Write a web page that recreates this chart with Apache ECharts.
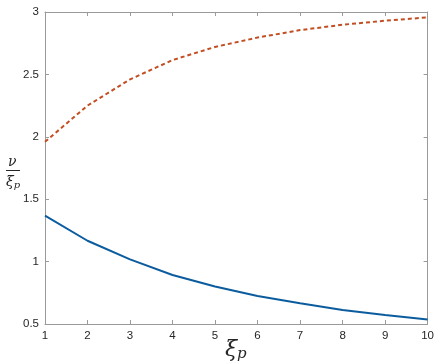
<!DOCTYPE html>
<html><head><meta charset="utf-8">
<script src="https://cdn.jsdelivr.net/npm/echarts@6/dist/echarts.min.js"></script>
<style>html,body{margin:0;padding:0;background:#fff}#c{width:437px;height:364px}</style>
</head><body><div id="c"></div>
<script>
const xValues = [1,2,3,4,5,6,7,8,9,10];
const blueValues = [1.368,1.167,1.018,0.893,0.800,0.725,0.666,0.612,0.572,0.537];
const redValues = [1.96,2.25,2.46,2.615,2.72,2.795,2.855,2.898,2.93,2.957];
const xTicks = [1,2,3,4,5,6,7,8,9,10];
const yTicks = [0.5,1,1.5,2,2.5,3];

const axisColor = '#9a9a9a';
const labelStyle = {color:'#262626', fontSize:11.5, fontFamily:'Liberation Sans, Arial, sans-serif'};
const chart = echarts.init(document.getElementById('c'));
const pair = (arr) => xValues.map((x,i)=>[x,arr[i]]);
chart.setOption({
  animation:false,
  grid:{left:45,right:9,top:12,bottom:40},
  xAxis:[
    {type:'value',min:1,max:10,interval:1,position:'bottom',
     axisLine:{lineStyle:{color:axisColor}},
     axisTick:{inside:true,length:4,lineStyle:{color:axisColor}},
     axisLabel:Object.assign({margin:6,formatter:v=>xTicks.includes(v)?String(v):''},labelStyle),
     splitLine:{show:false}},
    {type:'value',min:1,max:10,interval:1,position:'top',
     axisLine:{lineStyle:{color:axisColor}},
     axisTick:{inside:true,length:4,lineStyle:{color:axisColor}},
     axisLabel:{show:false},splitLine:{show:false}}
  ],
  yAxis:[
    {type:'value',min:0.5,max:3,interval:0.5,position:'left',
     axisLine:{show:true,lineStyle:{color:axisColor}},
     axisTick:{show:true,inside:true,length:4,lineStyle:{color:axisColor}},
     axisLabel:Object.assign({margin:6,formatter:v=>yTicks.includes(v)?String(v):''},labelStyle),
     splitLine:{show:false}},
    {type:'value',min:0.5,max:3,interval:0.5,position:'right',
     axisLine:{show:true,lineStyle:{color:axisColor}},
     axisTick:{show:true,inside:true,length:4,lineStyle:{color:axisColor}},
     axisLabel:{show:false},splitLine:{show:false}}
  ],
  series:[
    {type:'line',data:pair(blueValues),showSymbol:false,symbol:'none',
     lineStyle:{color:'#0b5c9e',width:2}},
    {type:'line',data:pair(redValues),showSymbol:false,symbol:'none',
     lineStyle:{color:'#c24e22',width:2,type:[4,3]}}
  ],
  graphic:[
    {type:'text',left:8,top:155,style:{text:'ν',font:'italic 14px "DejaVu Serif", serif',fill:'#262626'}},
    {type:'line',shape:{x1:6,y1:170.5,x2:20,y2:170.5},style:{stroke:'#262626',lineWidth:1}},
    {type:'text',left:6,top:175,style:{
      text:'{a|ξ}{b|p}',
      rich:{a:{font:'italic 14px "DejaVu Serif", serif',fill:'#262626'},
            b:{font:'italic 10px "DejaVu Serif", serif',fill:'#262626',padding:[7,0,0,0]}}}},
    {type:'text',left:225,top:339,style:{
      text:'{a|ξ}{b|p}',
      rich:{a:{font:'italic 22px "DejaVu Serif", serif',fill:'#262626'},
            b:{font:'italic 15px "DejaVu Serif", serif',fill:'#262626',padding:[9,0,0,0]}}}}
  ]
});
</script></body></html>
